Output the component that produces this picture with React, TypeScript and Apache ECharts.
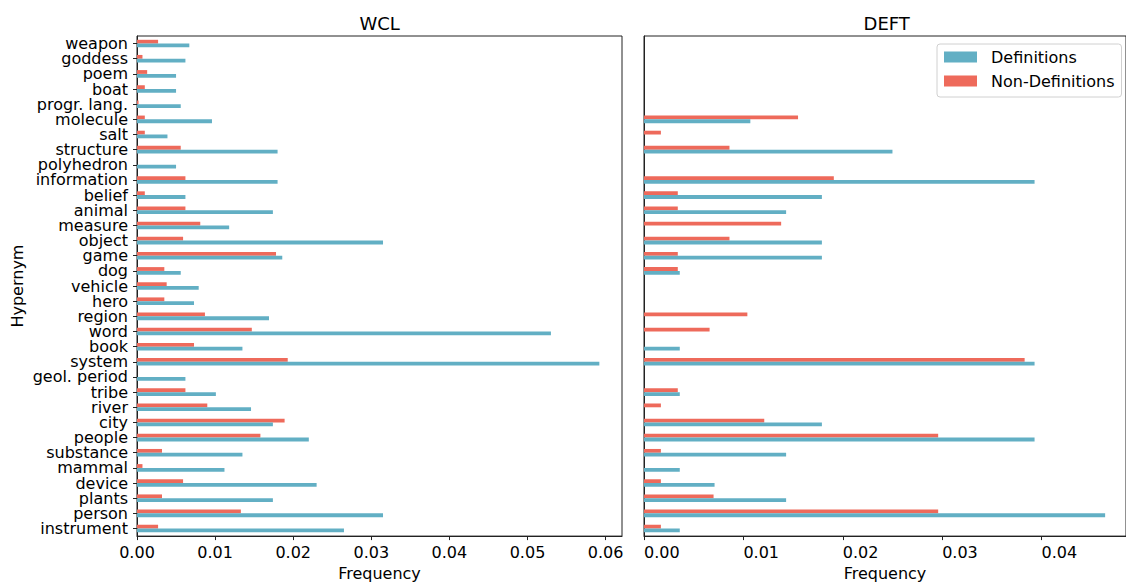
import React, { useEffect, useRef } from "react";
import * as echarts from "echarts";

const categories = ["weapon","goddess","poem","boat","progr. lang.","molecule","salt","structure","polyhedron","information","belief","animal","measure","object","game","dog","vehicle","hero","region","word","book","system","geol. period","tribe","river","city","people","substance","mammal","device","plants","person","instrument"];

const wclDefinitions = [0.0067,0.0062,0.0050,0.0050,0.0056,0.0096,0.0039,0.0180,0.0050,0.0180,0.0062,0.0174,0.0118,0.0315,0.0186,0.0056,0.0079,0.0073,0.0169,0.0530,0.0135,0.0592,0.0062,0.0101,0.0146,0.0174,0.0220,0.0135,0.0112,0.0230,0.0174,0.0315,0.0265];
const wclNonDefinitions = [0.0027,0.0007,0.0013,0.0010,0.0002,0.0010,0.0010,0.0056,0,0.0062,0.0010,0.0062,0.0081,0.0059,0.0178,0.0035,0.0038,0.0035,0.0087,0.0147,0.0073,0.0193,0,0.0062,0.0090,0.0189,0.0158,0.0032,0.0007,0.0059,0.0032,0.0133,0.0027];

const deftDefinitions = [0,0,0,0,0,0.0107,0,0.0250,0,0.0393,0.0179,0.0143,0,0.0179,0.0179,0.0036,0,0,0,0,0.0036,0.0393,0,0.0036,0,0.0179,0.0393,0.0143,0.0036,0.0071,0.0143,0.0464,0.0036];
const deftNonDefinitions = [0,0,0,0,0,0.0155,0.0017,0.0086,0,0.0191,0.0034,0.0034,0.0138,0.0086,0.0034,0.0034,0,0,0.0104,0.0066,0,0.0383,0,0.0034,0.0017,0.0121,0.0296,0.0017,0,0.0017,0.0070,0.0296,0.0017];

const wclTicks = [0, 0.01, 0.02, 0.03, 0.04, 0.05, 0.06];
const deftTicks = [0, 0.01, 0.02, 0.03, 0.04];

const BLUE = "#62afc4";
const RED = "#ee6a5b";
const FONT = "DejaVu Sans";
const FS = 16;

export default function App() {
  const ref = useRef<HTMLDivElement>(null);
  useEffect(() => {
    document.body.style.margin = "0";
    const chart = echarts.init(ref.current!, null, { renderer: "svg" });
    const cats = categories.slice().reverse();
    const rev = (a: number[]) => a.slice().reverse();
    const xAxisCommon = (ticks: number[], max: number, gridIndex: number, align: string) => ({
      type: "value",
      gridIndex,
      min: 0,
      max,
      name: "Frequency",
      nameLocation: "middle",
      nameGap: 28,
      nameTextStyle: { fontSize: FS, color: "#000", fontFamily: FONT },
      axisLine: { show: true, lineStyle: { color: "#222", width: 1 } },
      axisTick: { show: true, length: 4, lineStyle: { color: "#222" }, customValues: ticks },
      axisLabel: {
        fontSize: FS, color: "#000", fontFamily: FONT, margin: 8, align,
        customValues: ticks,
        formatter: (v: number) => v.toFixed(2),
      },
      splitLine: { show: false },
    });
    chart.setOption({
      animation: false,
      textStyle: { fontFamily: FONT },
      grid: [
        { left: 137, right: 504, top: 36, bottom: 44, show: true, borderColor: "#222", borderWidth: 1 },
        { left: 644, right: -2, top: 36, bottom: 44, show: true, borderColor: "#222", borderWidth: 1 },
      ],
      xAxis: [xAxisCommon(wclTicks, 0.0621, 0, "center"), xAxisCommon(deftTicks, 0.0485, 1, "left")],
      yAxis: [
        {
          type: "category", gridIndex: 0, data: cats,
          name: "Hypernym", nameLocation: "middle", nameGap: 112, nameRotate: 90,
          nameTextStyle: { fontSize: FS, color: "#000", fontFamily: FONT },
          axisLine: { show: true, lineStyle: { color: "#222" } },
          axisTick: { show: true, alignWithLabel: true, length: 4, lineStyle: { color: "#222" } },
          axisLabel: { fontSize: FS, lineHeight: 14, color: "#000", fontFamily: FONT, margin: 9, interval: 0 },
        },
        {
          type: "category", gridIndex: 1, data: cats,
          axisLine: { show: true, lineStyle: { color: "#222" } },
          axisTick: { show: false },
          axisLabel: { show: false },
        },
      ],
      legend: {
        orient: "vertical",
        left: 937, top: 44,
        data: ["Definitions", "Non-Definitions"],
        icon: "rect",
        itemWidth: 33, itemHeight: 11, itemGap: 8,
        padding: [5, 7, 8, 7],
        borderColor: "#d0d0d0", borderWidth: 1, borderRadius: 3,
        backgroundColor: "#fff",
        textStyle: { fontSize: FS, color: "#000", fontFamily: FONT, padding: [0, 0, 0, 9] },
      },
      graphic: [
        { type: "text", x: 379.7, y: 23, style: { text: "WCL", fontSize: 18, fontFamily: FONT, fill: "#000", textAlign: "center", textVerticalAlign: "middle" } },
        { type: "text", x: 886.7, y: 23, style: { text: "DEFT", fontSize: 18, fontFamily: FONT, fill: "#000", textAlign: "center", textVerticalAlign: "middle" } },
      ],
      series: [
        { name: "Non-Definitions", type: "bar", xAxisIndex: 0, yAxisIndex: 0, data: rev(wclNonDefinitions), itemStyle: { color: RED }, barWidth: "25%", barGap: "0%" },
        { name: "Definitions", type: "bar", xAxisIndex: 0, yAxisIndex: 0, data: rev(wclDefinitions), itemStyle: { color: BLUE }, barWidth: "25%", barGap: "0%" },
        { name: "Non-Definitions", type: "bar", xAxisIndex: 1, yAxisIndex: 1, data: rev(deftNonDefinitions), itemStyle: { color: RED }, barWidth: "25%", barGap: "0%" },
        { name: "Definitions", type: "bar", xAxisIndex: 1, yAxisIndex: 1, data: rev(deftDefinitions), itemStyle: { color: BLUE }, barWidth: "25%", barGap: "0%" },
      ],
    });
    return () => chart.dispose();
  }, []);
  return <div ref={ref} style={{ position: "absolute", left: 0, top: 0, width: 1126, height: 586 }} />;
}
